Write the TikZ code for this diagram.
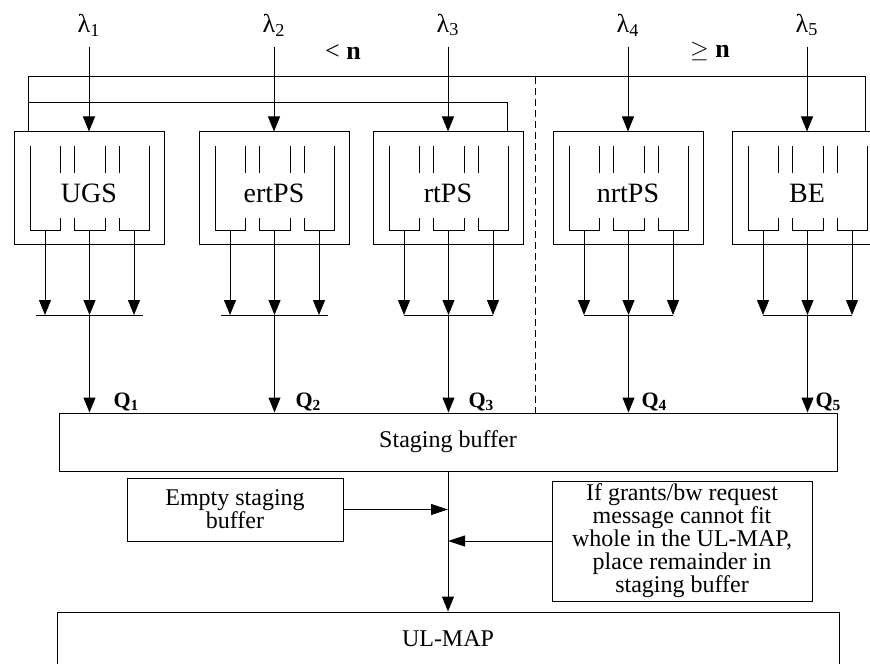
\documentclass[tikz,border=0pt]{standalone}
\usepackage{fontspec}
\setmainfont{Liberation Serif}
\usetikzlibrary{arrows.meta}

\tikzset{
  clsbox/.style={draw, minimum width=75pt, minimum height=56pt, inner sep=0pt,
    font=\fontsize{14}{16}\selectfont, text height=15pt},
  plainbox/.style={draw, inner sep=0pt, align=center,
    font=\fontsize{12}{11.5}\selectfont},
  lamlbl/.style={inner sep=5pt, font=\fontsize{13}{15}\selectfont},
  qlbl/.style={inner sep=0pt, font=\fontsize{11}{13}\selectfont\bfseries, anchor=base west},
  flow/.style={-{Triangle[length=7.5pt,width=6pt]}},
  sideflow/.style={-{Triangle[length=8.5pt,width=5.5pt]}},
}

\begin{document}
\begin{tikzpicture}[x=0.5pt, y=-0.5pt, line width=0.5pt]

\useasboundingbox (0,0) rectangle (870,663);
\clip (0,0) rectangle (870,663);

% === Staging buffer and UL-MAP ===
\node[plainbox, minimum width=389pt, minimum height=29pt] (staging) at (448,442) {Staging buffer};
\node[plainbox, minimum width=391pt, minimum height=26.5pt] (ulmap) at (448,638.5) {UL-MAP};

% === Service classes ===
\foreach \nm/\lx/\lab/\i/\ov/\qx in {ugs/14/UGS/1/9/99, ert/199/ertPS/2/9/96,
    rt/373/rtPS/3/0/95, nrt/553/nrtPS/4/0/88, be/732/BE/5/0/83} {
  \begin{scope}[shift={(\lx,132)}]
    \node[clsbox] (\nm) at (75,56) {\lab};
    % queue slots
    \draw (16,14) -- (16,98) -- (46,98) -- (46,86);
    \draw (60,86) -- (60,98) -- (91,98) -- (91,86);
    \draw (105,86) -- (105,98) -- (135,98) -- (135,14);
    \draw (46,14) -- (46,41) (60,14) -- (60,41) (91,14) -- (91,41) (105,14) -- (105,41);
    \coordinate (\nm-a) at (31,98);
    \coordinate (\nm-b) at (75.5,98);
    \coordinate (\nm-c) at (120,98);
    \coordinate (\nm-ja) at (31,183);
    \coordinate (\nm-jb) at (75.5,183);
    \coordinate (\nm-jc) at (120,183);
    \draw[flow] (\nm-a) -- (\nm-ja);
    \draw[flow] (\nm-b) -- (\nm-jb);
    \draw[flow] (\nm-c) -- (\nm-jc);
    \draw ({31-\ov},183) -- ({120+\ov},183);
    \draw[flow] (\nm-jb) -- (\nm-jb |- staging.north);
    \node[qlbl] (q\i) at (\qx,275) {Q\textsubscript{\i}};
    % arrival rate
    \node[lamlbl] (lam\i) at (75,-107) {λ\textsubscript{\i}};
    \draw[flow] (lam\i) -- (\nm);
  \end{scope}
}

% === Feedback loops ===
\draw ([xshift=7.5pt]ugs.north west) -- ++(0,-55) -| ([xshift=67pt]be.north west);
\draw ([xshift=7.5pt]ugs.north west) ++(0,-29) -| ([xshift=67.5pt]rt.north west);

% === Divider ===
\coordinate (divtop) at (535,77);
\draw[dash pattern=on 3.5pt off 2pt] (divtop) -- (divtop |- staging.north);
\node[font=\fontsize{13}{15}\selectfont] (lt) at (343,52) {< \textbf{n}};
\node[font=\fontsize{13}{15}\selectfont] (geq) at (710,52) {$\geq$ \textbf{n}};

% === Lower part ===
\node[plainbox, minimum width=108pt, minimum height=31.5pt] (empty) at (235,509.5)
  {Empty staging\\buffer};
\node[plainbox, minimum width=130pt, minimum height=60pt] (cond) at (682,541)
  {If grants/bw request\\message cannot fit\\whole in the UL-MAP,\\place remainder in\\staging buffer};

\draw[flow] (staging) -- (ulmap);
\draw[sideflow] (empty) -- (empty.east -| staging.south);
\draw[sideflow] (cond) -- (cond.west -| staging.south);

\end{tikzpicture}
\end{document}
